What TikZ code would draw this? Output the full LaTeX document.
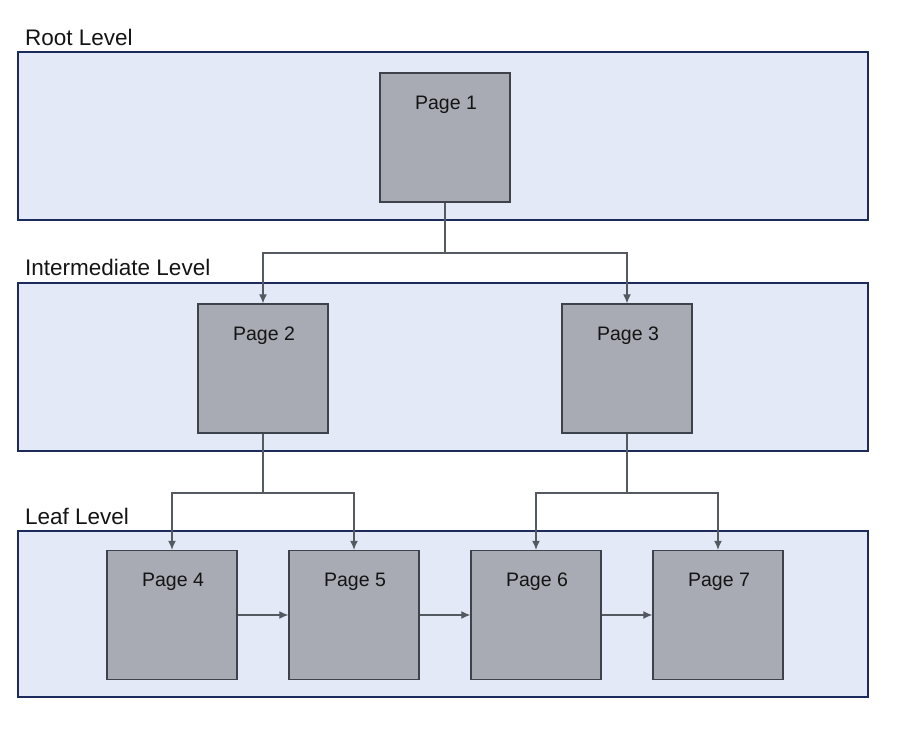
\documentclass[tikz,border=0pt]{standalone}
\usepackage{fontspec}
\setmainfont{Liberation Sans}
\usetikzlibrary{arrows.meta,calc}
\definecolor{bandfill}{HTML}{E4E9F7}
\definecolor{bandline}{HTML}{1C2A5C}
\definecolor{pagefill}{HTML}{A9ABB4}
\definecolor{pageline}{HTML}{3E434B}
\definecolor{conn}{HTML}{555A60}
\definecolor{txt}{HTML}{141414}
\tikzset{
  band/.style={draw=bandline, fill=bandfill, line width=1.8pt},
  levellabel/.style={font=\fontsize{22.5}{26}\selectfont, text=txt, anchor=base west, inner sep=0pt},
  pagebox/.style={draw=pageline, fill=pagefill, line width=1.4pt, minimum width=130pt, minimum height=129pt, inner sep=0pt},
  pagetext/.style={font=\fontsize{19.5}{22}\selectfont, text=txt, anchor=base, inner sep=0pt},
  link/.style={draw=conn, line width=1.2pt},
  arrowlink/.style={link, -{Latex[length=9pt,width=8pt]}},
}
\begin{document}
\begin{tikzpicture}[x=1pt,y=-1pt]
\useasboundingbox (0,0) rectangle (917,730);
% bands
\draw[band] (18,52) rectangle (868,220);
\draw[band] (18,283) rectangle (868,451);
\draw[band] (18,531) rectangle (868,697);
\node[levellabel] (lroot) at (25,46) {Root Level};
\node[levellabel] (linter) at (25,275) {Intermediate Level};
\node[levellabel] (lleaf) at (25,524) {Leaf Level};
% pages
\node[pagebox] (p1) at (445,137.5) {};
\node[pagebox] (p2) at (263,368.5) {};
\node[pagebox] (p3) at (627,368.5) {};
\node[pagebox] (p4) at (172,615) {};
\node[pagebox] (p5) at (354,615) {};
\node[pagebox] (p6) at (536,615) {};
\node[pagebox] (p7) at (718,615) {};
\foreach \p/\t in {p1/Page 1,p2/Page 2,p3/Page 3,p4/Page 4,p5/Page 5,p6/Page 6,p7/Page 7}{
  \node[pagetext] (\p t) at ($(\p.north)+(1,37)$) {\t};
}
% tree connectors
\coordinate (b1) at (445,253);
\coordinate (b2) at (263,493);
\coordinate (b3) at (627,493);
\draw[link] (p1.south) -- (b1);
\draw[arrowlink] (b1) -| (p2.north);
\draw[arrowlink] (b1) -| (p3.north);
\draw[link] (p2.south) -- (b2);
\draw[arrowlink] (b2) -| (p4.north);
\draw[arrowlink] (b2) -| (p5.north);
\draw[link] (p3.south) -- (b3);
\draw[arrowlink] (b3) -| (p6.north);
\draw[arrowlink] (b3) -| (p7.north);
% leaf chain
\draw[arrowlink] (p4.east) -- (p5.west);
\draw[arrowlink] (p5.east) -- (p6.west);
\draw[arrowlink] (p6.east) -- (p7.west);
\end{tikzpicture}
\end{document}
